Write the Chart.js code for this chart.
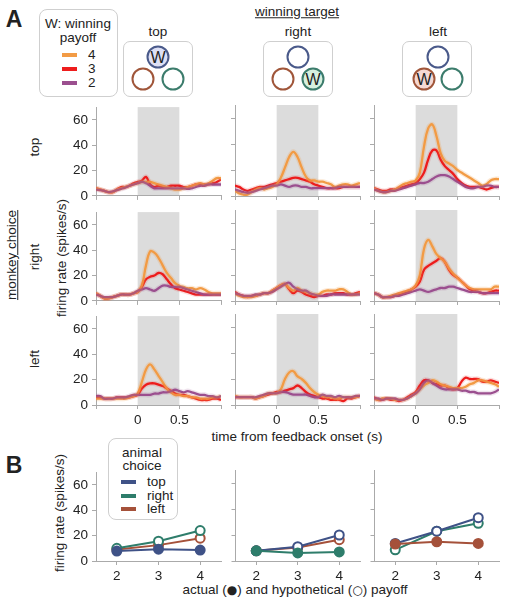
<!DOCTYPE html>
<html>
<head>
<meta charset="utf-8">
<script src="https://cdn.jsdelivr.net/npm/chart.js@4.4.1/dist/chart.umd.min.js"></script>
<style>
body { margin:0; background:#fff; width:506px; height:602px; position:relative; overflow:hidden;
  font-family:'Liberation Sans', Arial, sans-serif; font-size:13.5px; color:#222; }
canvas { position:absolute; }
.t { position:absolute; white-space:nowrap; transform:translate(-50%,-50%); line-height:1; }
.l { position:absolute; white-space:nowrap; transform:translate(0,-50%); line-height:1; }
.rot { position:absolute; white-space:nowrap; transform:translate(-50%,-50%) rotate(-90deg); line-height:1; }
.box { position:absolute; border:1px solid #cfcfcf; border-radius:8px; box-sizing:border-box; }
.sw { position:absolute; height:4px; width:15px; }
.circ { position:absolute; width:23px; height:23px; border-radius:50%; border:2px solid; box-sizing:border-box;
  transform:translate(-50%,-50%); text-align:center; line-height:19px; font-size:16px; }
.big { position:absolute; font-weight:bold; font-size:23px; transform:translate(-50%,-50%); line-height:1; }
.glyph { font-family:'DejaVu Sans', sans-serif; font-size:12px; }
</style>
</head>
<body>

<div class="big" style="left:14px;top:19px">A</div>
<div class="big" style="left:14px;top:465px">B</div>

<!-- legend A -->
<div class="box" style="left:39px;top:9px;width:79px;height:88px"></div>
<div class="t" style="left:78px;top:24px">W: winning</div>
<div class="t" style="left:78px;top:38px">payoff</div>
<div class="sw" style="left:62px;top:53px;background:#F29B45"></div>
<div class="sw" style="left:62px;top:67px;background:#EE1D1D"></div>
<div class="sw" style="left:62px;top:81px;background:#9B4F8F"></div>
<div class="l" style="left:88px;top:55px">4</div>
<div class="l" style="left:88px;top:69px">3</div>
<div class="l" style="left:88px;top:83px">2</div>

<!-- winning target header -->
<div class="t" style="left:297px;top:12px;text-decoration:underline">winning target</div>
<div class="t" style="left:158px;top:32px">top</div>
<div class="t" style="left:298px;top:32px">right</div>
<div class="t" style="left:438px;top:32px">left</div>

<div class="box" style="left:123px;top:41px;width:70px;height:56px;border-radius:7px"></div>
<div class="circ" style="left:158px;top:57px;border-color:#4A5A8A;background:#DDE0F5">W</div>
<div class="circ" style="left:143px;top:79px;border-color:#A0563A"></div>
<div class="circ" style="left:173px;top:79px;border-color:#3C7C6C"></div>

<div class="box" style="left:263px;top:41px;width:70px;height:56px;border-radius:7px"></div>
<div class="circ" style="left:298px;top:57px;border-color:#4A5A8A"></div>
<div class="circ" style="left:283px;top:79px;border-color:#A0563A"></div>
<div class="circ" style="left:313px;top:79px;border-color:#3C7C6C;background:#D7F0DF">W</div>

<div class="box" style="left:402px;top:41px;width:70px;height:56px;border-radius:7px"></div>
<div class="circ" style="left:438px;top:57px;border-color:#4A5A8A"></div>
<div class="circ" style="left:424px;top:79px;border-color:#A0563A;background:#F5D8D3">W</div>
<div class="circ" style="left:452px;top:79px;border-color:#3C7C6C"></div>

<!-- row labels -->
<div class="rot" style="left:12px;top:255px;text-decoration:underline">monkey choice</div>
<div class="rot" style="left:35px;top:147px">top</div>
<div class="rot" style="left:35px;top:257px">right</div>
<div class="rot" style="left:35px;top:359px">left</div>
<div class="rot" style="left:62px;top:258px">firing rate (spikes/s)</div>
<div class="t" style="left:297px;top:437px">time from feedback onset (s)</div>

<!-- legend B -->
<div class="box" style="left:108px;top:438px;width:70px;height:82px"></div>
<div class="t" style="left:142px;top:453px">animal</div>
<div class="t" style="left:142px;top:466px">choice</div>
<div class="sw" style="left:121px;top:480px;background:#3F5287"></div>
<div class="sw" style="left:121px;top:494px;background:#2E7D6B"></div>
<div class="sw" style="left:121px;top:507px;background:#A5513A"></div>
<div class="l" style="left:147px;top:482px">top</div>
<div class="l" style="left:147px;top:496px">right</div>
<div class="l" style="left:147px;top:509px">left</div>
<div class="rot" style="left:60px;top:513px">firing rate (spikes/s)</div>
<div class="t" style="left:295px;top:590px">actual (<span class="glyph">●</span>) and hypothetical (<span class="glyph">○</span>) payoff</div>

<script>
// time from feedback onset (s)
var time = [-0.5,-0.45,-0.4,-0.35,-0.3,-0.25,-0.2,-0.15,-0.1,-0.05,0,0.05,0.1,0.15,0.2,0.25,0.3,0.35,0.4,0.45,0.5,0.55,0.6,0.65,0.7,0.75,0.8,0.85,0.9,0.95,1.0];

// firing rates, named <monkey choice><winning target><payoff>
var topTop4 = [6,5,4,3,3,5,6,7,8,9,10,11,11,11,10,9,8,7,6,5,5,6,7,8,9,10,9,10,12,14,14];
var topTop3 = [6,5,4,3,3,5,7,7,8,10,11,12,15,9,7,8,7,7,8,8,8,7,7,8,9,9,9,9,10,11,13];
var topTop2 = [5,4.5,4,3,3.5,4.5,5.5,6.5,8,9,10,11,10,8,6,6,6,6,6,6,6,6,5.5,6,7,8,8,9,9,9,9];

var topRight4 = [4,2,1,1,3,5,6,5,6,7,9,14,22,30,34,30,22,15,12,12,11,11,10,9,7,8,9,9,8,9,10];
var topRight3 = [8,7,5,4,5,6,7,7,8,9,10,11,12,13,14,14,13,12,11,9,8,7,6,6,6,6,7,7,7,7,7];
var topRight2 = [5,4,3,2.5,3,4,5,6,7,8,8,9,8,7,8,8,7,7,6,6,6,6,6,6,6,7,7,7,7,7,7];

var topLeft4 = [6,4,3,3,4,5,7,9,10,11,12,18,38,52,55,46,33,27,25,23,20,18,16,14,12,10,8,9,12,13,13];
var topLeft3 = [6,5,4,4,5,5,6,7,8,9,10,13,18,28,35,35,28,23,20,17,13,10,8,7,7,7,6,5,6,7,7];
var topLeft2 = [5,4,3,3,4,4,5,6,7,8,9,10,10,11,13,15,16,16,15,13,11,9,7,6,6,7,7,8,8,7,7];

var rightTop4 = [6,4,2,2,3,4,5,5,5,6,7,12,28,39,38,34,28,22,18,14,12,11,10,10,9,10,9,7,6,6,6];
var rightTop3 = [6,4,2,2,3,4,5,5,5,6,7,11,17,19,20,22,21,17,13,10,9,8,7,6,5,5,5,5,5,5,5];
var rightTop2 = [5,4,3,3,3,4,5,5,5,6,8,9,10,9,8,10,12,12,11,11,11,10,9,8,7,6,5,5,5,5,5];

var rightRight4 = [6,4,3,3,3,4,5,6,6,8,10,12,13,10,8,10,8,7,6,5,5,7,8,8,8,9,9,7,5,5,6];
var rightRight3 = [7,5,4,3,4,4,5,6,6,8,10,12,13,9,6,8,7,5,4,3,4,4,5,5,6,6,6,5,5,6,7];
var rightRight2 = [6,5,4,4,4,5,5,6,6,7,9,11,13,14,11,9,8,8,6,5,4,4,4,5,5,5,5,5,5,5,5];

var rightLeft4 = [6,5,3,3,4,5,6,7,8,9,12,20,40,47,42,36,33,30,25,21,18,15,12,10,9,9,9,9,9,11,11];
var rightLeft3 = [6,5,3,3,3,4,5,6,7,9,11,15,24,27,29,31,33,30,24,20,18,15,12,9,8,7,6,6,7,8,8];
var rightLeft2 = [6,5,3,3,3,4,4,5,6,7,8,9,8,7,8,9,10,10,11,11,10,9,8,7,7,7,6,6,6,6,6];

var leftTop4 = [5,5,5,5,5,5,5,5,6,7,9,18,28,32,28,23,18,13,10,8,8,7,7,6,6,5,5,5,6,6,7];
var leftTop3 = [6,6,5,5,5,6,6,6,6,7,8,13,16,17,17,16,15,13,11,9,8,8,7,6,5,4,4,4,5,5,4];
var leftTop2 = [7,7,5,5,5,6,6,6,7,8,8,8,8,8,9,9,10,10,11,12,11,10,11,10,9,8,8,7,7,6,7];

var leftRight4 = [7,6,6,6,6,5,6,7,9,9,9,12,20,25,26,22,20,17,13,10,8,7,6,6,5,5,6,6,6,6,7];
var leftRight3 = [6,6,6,6,6,5,6,7,8,9,10,10,11,12,13,15,13,10,8,7,6,5,5,4,4,4,3,5,5,6,7];
var leftRight2 = [6,6,6,6,6,6,7,8,9,9,9,10,10,9,8,8,8,8,7,6,6,8,7,7,6,7,6,6,6,7,7];

var leftLeft4 = [5,4,5,5,5,4,4,4,5,7,9,12,15,17,19,18,16,15,14,13,13,13,14,16,17,19,19,18,17,16,14];
var leftLeft3 = [6,4,4,5,4,4,3,4,6,8,10,15,19,19,17,16,15,15,13,12,13,18,21,20,20,20,18,18,19,18,17];
var leftLeft2 = [5,5,4,5,5,5,4,4,5,7,9,12,17,19,17,15,13,12,12,12,12,11,11,10,10,9,9,9,9,10,12];

// panel B: payoff and mean rate per animal choice, one group per column
var payoff = [2, 3, 4];
var colActual = ['top', 'right', 'left'];
var b1Top = [7.8, 9.3, 8.6], b1Right = [10, 15.6, 24], b1Left = [9, 12.5, 18];
var b2Top = [7.8, 11, 20], b2Right = [7.8, 6.2, 7], b2Left = [7.8, 10.4, 16.4];
var b3Top = [13.5, 22.9, 33.3], b3Right = [8.6, 22.9, 29], b3Left = [13, 14.8, 13.5];

var yTicks = [0, 20, 40, 60];

Chart.defaults.font.family = "'Liberation Sans', Arial, sans-serif";
Chart.defaults.font.size = 13.5;
Chart.defaults.color = '#222';

var payColor = { 4: '#F29B45', 3: '#EE1D1D', 2: '#9B4F8F' };
var payBand = { 4: 'rgba(242,155,69,0.22)', 3: 'rgba(238,29,29,0.15)', 2: 'rgba(155,79,143,0.16)' };
var choiceColor = { top: '#3F5287', right: '#2E7D6B', left: '#A5513A' };

var colLeft = [96, 235, 374];
var rowTop = [105, 210, 314];
var bTop = 470;
var plotW = 125, plotH = 91;
var axisGray = '#aaa';

var shadePlugin = {
  id: 'shade',
  beforeDraw: function (chart, args, opts) {
    if (!opts.on) return;
    var x = chart.scales.x, y = chart.scales.y, ctx = chart.ctx;
    var x0 = x.getPixelForValue(0), x1 = x.getPixelForValue(0.5);
    var y0 = y.getPixelForValue(70), y1 = y.getPixelForValue(0);
    ctx.save();
    ctx.fillStyle = '#dcdcdc';
    ctx.fillRect(x0, y0, x1 - x0, y1 - y0);
    ctx.restore();
  }
};

function addPanel(left, top, showY, showX, xMin, xMax, xTicks, xFmt, datasets, shade) {
  var yW = showY ? 34 : 6, xH = showX ? 32 : 12, padT = 10, padR = 8;
  var cv = document.createElement('canvas');
  cv.width = yW + plotW + padR;
  cv.height = padT + plotH + xH;
  cv.style.left = (left - yW) + 'px';
  cv.style.top = (top - padT) + 'px';
  document.body.appendChild(cv);
  new Chart(cv, {
    type: 'line',
    data: { datasets: datasets },
    options: {
      responsive: false,
      animation: false,
      events: [],
      layout: { padding: { top: padT, right: padR, left: 0, bottom: 0 } },
      plugins: { legend: { display: false }, tooltip: { enabled: false }, shade: { on: shade } },
      scales: {
        x: {
          type: 'linear', min: xMin, max: xMax,
          afterBuildTicks: function (s) { s.ticks = xTicks.map(function (v) { return { value: v }; }); },
          afterFit: function (s) { s.height = xH; },
          grid: { drawOnChartArea: false, drawTicks: true, tickLength: 4, color: axisGray },
          border: { display: true, color: axisGray, width: 1 },
          ticks: { display: showX, autoSkip: false, maxRotation: 0, padding: 3, callback: xFmt }
        },
        y: {
          min: 0, max: 70,
          afterBuildTicks: function (s) { s.ticks = yTicks.map(function (v) { return { value: v }; }); },
          afterFit: function (s) { s.width = yW; },
          grid: { drawOnChartArea: false, drawTicks: true, tickLength: 4, color: axisGray },
          border: { display: true, color: axisGray, width: 1 },
          ticks: { display: showY, padding: 4 }
        }
      }
    },
    plugins: [shadePlugin]
  });
}

function pts(xs, ys) {
  return ys.map(function (v, i) { return { x: xs[i], y: v }; });
}

function traceSets(s4, s3, s2) {
  var out = [];
  [[2, s2], [4, s4], [3, s3]].forEach(function (p) {
    out.push({ data: pts(time, p[1]), borderColor: payBand[p[0]], borderWidth: 5, pointRadius: 0, tension: 0.4, fill: false });
  });
  [[2, s2], [4, s4], [3, s3]].forEach(function (p) {
    out.push({ data: pts(time, p[1]), borderColor: payColor[p[0]], borderWidth: 2.3, pointRadius: 0, tension: 0.4, fill: false });
  });
  return out;
}

var grid = [
  [[topTop4, topTop3, topTop2], [topRight4, topRight3, topRight2], [topLeft4, topLeft3, topLeft2]],
  [[rightTop4, rightTop3, rightTop2], [rightRight4, rightRight3, rightRight2], [rightLeft4, rightLeft3, rightLeft2]],
  [[leftTop4, leftTop3, leftTop2], [leftRight4, leftRight3, leftRight2], [leftLeft4, leftLeft3, leftLeft2]]
];

var timeFmt = function (v) { return v === 0 ? '0' : (v === 0.5 ? '0.5' : ''); };

for (var r = 0; r < 3; r++) {
  for (var c = 0; c < 3; c++) {
    var g = grid[r][c];
    addPanel(colLeft[c], rowTop[r], c === 0, r === 2, -0.5, 1.0, [-0.5, 0, 0.5, 1.0], timeFmt,
      traceSets(g[0], g[1], g[2]), true);
  }
}

// panel B
var bCols = [
  { top: b1Top, right: b1Right, left: b1Left },
  { top: b2Top, right: b2Right, left: b2Left },
  { top: b3Top, right: b3Right, left: b3Left }
];

for (var k = 0; k < 3; k++) {
  var sets = [];
  var order = ['top', 'right', 'left'].filter(function (n) { return n !== colActual[k]; });
  order.unshift(colActual[k]);
  order.forEach(function (name) {
    var actual = name === colActual[k];
    sets.push({
      data: pts(payoff, bCols[k][name]),
      borderColor: choiceColor[name], borderWidth: 2, tension: 0,
      pointRadius: 4.5, pointBorderWidth: 2, pointBorderColor: choiceColor[name],
      pointBackgroundColor: actual ? choiceColor[name] : '#fff', fill: false
    });
  });
  addPanel(colLeft[k], bTop, k === 0, true, 1.5, 4.5, payoff, function (v) { return String(v); }, sets, false);
}
</script>
</body>
</html>
